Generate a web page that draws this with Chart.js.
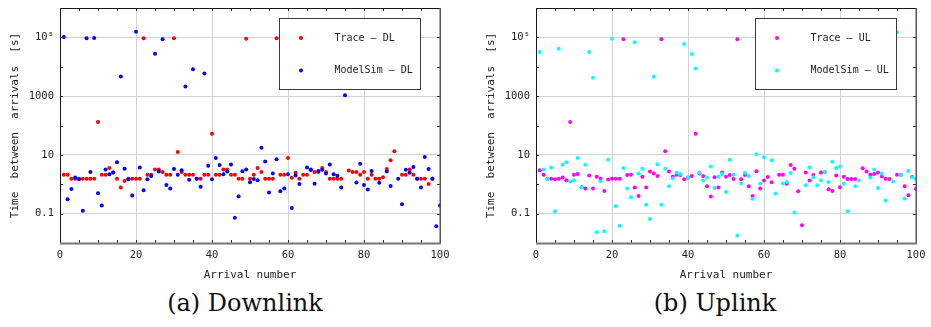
<!DOCTYPE html>
<html><head><meta charset="utf-8">
<script src="https://cdn.jsdelivr.net/npm/chart.js@4.4.1/dist/chart.umd.min.js"></script>
<style>
html,body{margin:0;padding:0;background:#fff;width:931px;height:327px;overflow:hidden;}
.wrap{position:absolute;top:0;}
.cap{position:absolute;top:291px;font-family:"DejaVu Serif",serif;font-size:24px;line-height:1;color:#111;transform:translateX(-50%);white-space:nowrap;}
</style></head><body>
<div class="wrap" style="left:0px"><canvas id="dl" width="455" height="285"></canvas></div>
<div class="wrap" style="left:476px"><canvas id="ul" width="455" height="285"></canvas></div>
<div class="cap" style="left:245px">(a) Downlink</div>
<div class="cap" style="left:715px">(b) Uplink</div>
<script>
const arrivalNumbers = [1,2,3,4,5,6,7,8,9,10,11,12,13,14,15,16,17,18,19,20,21,22,23,24,25,26,27,28,29,30,31,32,33,34,35,36,37,38,39,40,41,42,43,44,45,46,47,48,49,50,51,52,53,54,55,56,57,58,59,60,61,62,63,64,65,66,67,68,69,70,71,72,73,74,75,76,77,78,79,80,81,82,83,84,85,86,87,88,89,90,91,92,93,94,95,96,97,98,99,100];

const traceDL = [2.1,2.1,1.55,1.55,1.55,1.55,1.55,1.55,1.55,132,
2.1,2.1,3.6,2.5,1.55,0.78,1.3,1.55,1.55,1.55,
1.55,93000,2.1,2.1,3.2,3.2,2.6,2.1,2.1,93000,
12.6,2.6,2.1,2.1,2.1,1.55,1.55,2.1,2.1,52,
2.1,2.1,3.2,3.2,2.1,2.1,1.55,1.55,89000,1.55,
2.1,3.6,2.6,1.55,1.55,1.55,93000,2.1,2.1,7.8,
1.66,2.45,1.55,2.1,2.1,3.0,2.6,2.6,3.6,2.6,
1.55,1.55,1.55,1.55,90000,2.95,2.6,2.6,2.1,2.6,
1.55,2.1,1.55,1.55,1.74,3.3,6.5,13.2,90000,2.1,
2.1,3.2,2.1,1.55,1.55,1.55,1.02,1.55];

const modelSimDL = [102000,0.31,0.69,1.7,1.48,0.126,93000,2.6,95000,0.49,
0.19,3.2,2.2,2.5,5.6,4700,3.4,1.48,0.41,155000,
3.7,0.63,1.48,1.9,27500,2.7,87000,0.95,0.72,3.3,
2.1,3.0,2140,1.41,8300,1.55,0.83,5900,4.3,1.48,
7.8,4.5,2.2,2.7,4.7,0.072,0.39,2.75,3.2,1.17,
1.5,1.38,17.4,5.9,0.52,2.3,7.1,0.58,0.72,2.2,
0.155,2.0,1.02,30000,3.7,3.2,1.05,2.8,3.1,2.3,
4.7,2.2,1.95,0.78,1070,12000,60000,1.15,5.0,0.95,
0.66,2.8,5000,1.12,20000,2.7,0.87,80000,1.55,0.21,
3.1,2.45,3.9,1.55,0.78,8.5,3.3,1.55,0.037,0.19];

const traceUL = [3.0,2.1,1.55,1.55,1.48,1.55,1.7,1.38,132,2.1,
2.25,0.79,0.71,2.0,0.72,1.8,1.55,0.59,1.45,1.55,
1.55,1.55,87000,2.05,2.1,0.78,0.4,1.8,0.78,2.7,
2.3,1.9,87000,13.3,2.7,1.8,2.1,2.05,1.48,1.7,
1.9,52,2.3,1.9,0.85,0.38,1.74,0.78,2.5,1.8,
2.05,1.5,87000,1.48,2.05,0.85,0.4,2.75,0.71,1.33,
1.78,1.17,80000,2.1,2.1,1.05,4.5,3.4,0.58,0.04,
2.5,1.33,2.05,85000,2.5,2.6,0.68,0.59,2.0,0.79,
1.8,1.5,1.5,1.5,90000,3.5,2.7,2.1,2.25,2.5,
1.85,1.55,1.5,88000,2.1,2.1,0.85,0.42,1.78,0.69];

const modelSimUL = [32000,3.2,1.55,3.7,0.12,41000,4.6,5.6,1.23,1.38,
7.9,0.79,4.6,32000,4200,0.023,1.26,0.025,6.8,89000,
0.18,0.039,3.6,0.71,0.36,68000,2.3,3.4,0.2,0.065,
4600,4.8,0.2,3.4,0.85,1.58,2.45,2.25,59000,1.7,
27000,8700,2.45,1.33,1.7,4.0,0.75,1.8,2.25,0.55,
6.8,2.1,0.018,1.07,2.45,1.9,0.32,10.5,1.07,8.3,
20000,6.6,0.48,3500,1.07,1.2,2.4,0.11,50000,9000,
0.93,3.7,1.74,0.93,1.38,2.6,1.2,5.8,3.6,4.0,
1.05,0.12,40000,0.85,1.33,30000,6000,1.7,3.2,0.75,
2.3,0.28,70000,1.23,150000,2.05,0.33,2.8,1.7,1.55];

const xTickValues = [0,20,40,60,80,100];
const yTickValues = [0.1,10,1000,100000];
const yTickLabels = ['0.1','10','1000','10\u2075'];
const xMinorTicks = [5,10,15,20,25,30,35,40,45,50,55,60,65,70,75,80,85,90,95];
const yMinorTicks = [0.1,1,10,100,1000,10000,100000];

const MONO = '"DejaVu Sans Mono", monospace';

function pts(vals){ return vals.map((v,i)=>({x:arrivalNumbers[i], y:v})); }

const frameLegend = {
  id:'frameLegend',
  afterDatasetsDraw(chart){
    const {ctx, chartArea:a} = chart;
    const o = chart.options.plugins.frameLegend;
    const bw=141, bh=71;
    const bx = Math.round(a.right - 20 - bw)+0.5, by = Math.round(a.top + 10)+0.5;
    ctx.save();
    ctx.fillStyle='#fff'; ctx.fillRect(bx,by,bw,bh);
    ctx.strokeStyle='#3a3a3a'; ctx.lineWidth=1; ctx.strokeRect(bx,by,bw,bh);
    ctx.font='10px '+MONO; ctx.textBaseline='middle'; ctx.textAlign='left';
    o.entries.forEach((e,k)=>{
      const y = by + 19.5 + k*32.5;
      ctx.fillStyle=e.color; ctx.beginPath(); ctx.arc(bx+21.5,y,2,0,Math.PI*2); ctx.fill();
      ctx.fillStyle='#222'; ctx.fillText(e.label, bx+55, y);
    });
    ctx.restore();
  },
  afterDraw(chart){
    const {ctx, chartArea:a, scales} = chart;
    const xs=scales.x, ys=scales.y;
    ctx.save();
    const L=a.left, R=a.right, T=a.top, B=a.bottom;
    function line(x1,y1,x2,y2){ctx.beginPath();ctx.moveTo(x1,y1);ctx.lineTo(x2,y2);ctx.stroke();}
    ctx.strokeStyle='#333'; ctx.lineWidth=1;
    xMinorTicks.forEach(v=>{const x=Math.round(xs.getPixelForValue(v))+0.5; line(x,T,x,T+3); line(x,B,x,B-3);});
    yMinorTicks.forEach(v=>{const y=Math.round(ys.getPixelForValue(v))+0.5; line(L,y,L+3,y); line(R,y,R-3,y);});
    ctx.strokeStyle='#1a1a1a'; ctx.lineWidth=1;
    line(L+0.5,T,L+0.5,B); line(L,T+0.5,R,T+0.5);
    ctx.strokeStyle='#555'; ctx.lineWidth=1.5; line(R+0.25,T,R+0.25,B+1);
    ctx.strokeStyle='#777'; ctx.lineWidth=2; line(L,B+0.5,R+1,B+0.5);
    ctx.restore();
  }
};

function makeChart(id, traceVals, simVals, traceColor, simColor, traceLabel, simLabel){
  return new Chart(document.getElementById(id), {
    type:'scatter',
    data:{datasets:[
      {label:traceLabel, data:pts(traceVals), backgroundColor:traceColor, borderColor:traceColor, borderWidth:0, pointRadius:2, order:1},
      {label:simLabel, data:pts(simVals), backgroundColor:simColor, borderColor:simColor, borderWidth:0, pointRadius:2, order:0}
    ]},
    options:{
      responsive:false, animation:false, devicePixelRatio:1,
      layout:{padding:{top:8,right:15,left:0,bottom:0}},
      plugins:{legend:{display:false}, tooltip:{enabled:false},
        frameLegend:{entries:[{label:traceLabel,color:traceColor},{label:simLabel,color:simColor}]}},
      scales:{
        x:{type:'linear', min:0, max:100,
          afterBuildTicks:s=>{s.ticks=xTickValues.map(v=>({value:v}));},
          afterFit:s=>{s.height=42; s.paddingLeft=0; s.paddingRight=0;},
          grid:{color:'#d2d2d2', lineWidth:1, drawTicks:false},
          border:{display:false},
          ticks:{font:{family:MONO,size:10.5}, color:'#222', padding:6, maxRotation:0, autoSkip:false},
          title:{display:true, text:'Arrival number', font:{family:MONO,size:11}, color:'#222', padding:{top:0,bottom:3}}
        },
        y:{type:'logarithmic', min:0.01, max:1000000,
          afterBuildTicks:s=>{s.ticks=yTickValues.map(v=>({value:v}));},
          afterFit:s=>{s.width=60; s.paddingTop=0; s.paddingBottom=0;},
          grid:{color:'#d2d2d2', lineWidth:1, drawTicks:false},
          border:{display:false},
          ticks:{font:{family:MONO,size:10.5}, color:'#222', padding:6, autoSkip:false,
            callback:(v)=>{const k=yTickValues.indexOf(v); return k>=0?yTickLabels[k]:'';}},
          title:{display:true, text:'Time  between  arrivals  [s]', font:{family:MONO,size:11}, color:'#222', padding:{top:9,bottom:0}}
        }
      }
    },
    plugins:[frameLegend]
  });
}

makeChart('dl', traceDL, modelSimDL, '#ff0000', '#0000ff', 'Trace \u2013 DL', 'ModelSim \u2013 DL');
makeChart('ul', traceUL, modelSimUL, '#ff00ff', '#00ffff', 'Trace \u2013 UL', 'ModelSim \u2013 UL');
</script>
</body></html>
